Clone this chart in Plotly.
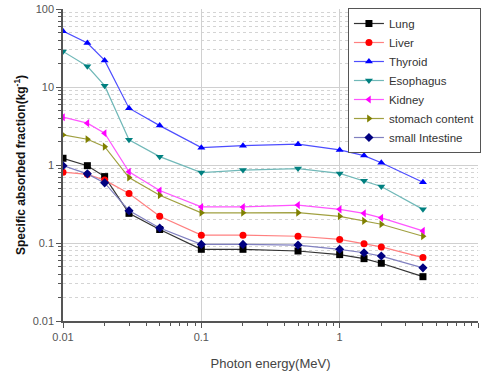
import plotly.graph_objects as go

energy = [0.01, 0.015, 0.02, 0.03, 0.05, 0.1, 0.2, 0.5, 1, 1.5, 2, 4]

lung = [1.22, 0.98, 0.71, 0.24, 0.149, 0.083, 0.083, 0.079, 0.071, 0.063, 0.055, 0.037]
liver = [0.81, 0.76, 0.64, 0.43, 0.22, 0.126, 0.126, 0.122, 0.111, 0.098, 0.089, 0.065]
thyroid = [52, 36.7, 21.9, 5.35, 3.2, 1.67, 1.77, 1.85, 1.56, 1.32, 1.07, 0.6]
esophagus = [28.6, 18.4, 10.4, 2.1, 1.28, 0.80, 0.86, 0.90, 0.78, 0.63, 0.53, 0.27]
kidney = [4.1, 3.44, 2.55, 0.82, 0.47, 0.29, 0.29, 0.306, 0.27, 0.24, 0.21, 0.143]
stomach = [2.43, 2.14, 1.72, 0.69, 0.41, 0.244, 0.244, 0.245, 0.22, 0.192, 0.174, 0.122]
small_int = [0.98, 0.77, 0.59, 0.26, 0.156, 0.096, 0.096, 0.094, 0.083, 0.075, 0.068, 0.048]

x_ticks = [0.01, 0.1, 1, 10]
x_ticklabels = ["0.01", "0.1", "1", "10"]
y_ticks = [0.01, 0.1, 1, 10, 100]
y_ticklabels = ["0.01", "0.1", "1", "10", "100"]
x_minor = [m * d for d in (0.01, 0.1, 1) for m in range(2, 10)]
y_minor = [m * d for d in (0.01, 0.1, 1, 10) for m in range(2, 10)]

series = [
    ("Lung", lung, "#000000", "#333333", "square"),
    ("Liver", liver, "#ff0000", "#ff8080", "circle"),
    ("Thyroid", thyroid, "#0000ff", "#4d4dff", "triangle-up"),
    ("Esophagus", esophagus, "#008080", "#70b8b8", "triangle-down"),
    ("Kidney", kidney, "#ff00ff", "#ff55ff", "triangle-left"),
    ("stomach content", stomach, "#808000", "#a0a040", "triangle-right"),
    ("small Intestine", small_int, "#000080", "#8080c0", "diamond"),
]

fig = go.Figure()
for name, vals, mc, lc, sym in series:
    fig.add_trace(go.Scatter(
        x=energy, y=vals, name=name, mode="lines+markers",
        line=dict(color=lc, width=1.2),
        marker=dict(color=mc, symbol=sym, size=7),
    ))

axis_font = dict(family="Liberation Sans, Arial, sans-serif", size=11, color="#555555")

fig.update_layout(
    width=483, height=371,
    margin=dict(l=63, r=2, t=9, b=50),
    paper_bgcolor="white", plot_bgcolor="white",
    font=dict(family="Liberation Sans, Arial, sans-serif"),
    showlegend=True,
    legend=dict(
        x=(350 - 63) / 418, y=(321 - 8) / 312, xanchor="left", yanchor="top",
        bgcolor="white", bordercolor="#555555", borderwidth=1,
        font=dict(size=11.5, color="#333333"),
        itemwidth=30, tracegroupgap=0,
    ),
    xaxis=dict(
        type="log", range=[-2, 1], automargin=False,
        tickvals=x_ticks, ticktext=x_ticklabels,
        ticks="outside", ticklen=5, tickcolor="#555555",
        showline=True, linecolor="#555555", linewidth=1.5,
        showgrid=True, gridcolor="#d0d0d0", gridwidth=1,
        zeroline=False,
        tickfont=axis_font,
        minor=dict(tickvals=x_minor, ticks="outside", ticklen=3, tickcolor="#555555", showgrid=False),
        title=dict(text="Photon energy(MeV)", font=dict(size=13, color="#444444"), standoff=18),
    ),
    yaxis=dict(
        type="log", range=[-2, 2], automargin=False,
        tickvals=y_ticks, ticktext=y_ticklabels,
        ticks="outside", ticklen=5, tickcolor="#555555",
        showline=True, linecolor="#555555", linewidth=1.5,
        showgrid=True, gridcolor="#d0d0d0", gridwidth=1,
        zeroline=False,
        tickfont=axis_font,
        minor=dict(tickvals=y_minor, ticks="outside", ticklen=3, tickcolor="#555555", showgrid=True,
                   gridcolor="#d4d4d4", griddash="dot", gridwidth=1),
        title=dict(text="<b>Specific absorbed fraction(kg<sup>-1</sup>)</b>",
                   font=dict(size=12, color="#111111"), standoff=4),
    ),
)

fig.add_shape(type="rect", xref="paper", yref="paper",
              x0=(353 - 63) / 418, x1=(387 - 63) / 418,
              y0=(321 - 32) / 312, y1=(321 - 14) / 312,
              line=dict(color="#ff4040", width=1), fillcolor="rgba(0,0,0,0)")

fig.write_html("out.html", config={"displayModeBar": False},
               post_script="document.body.style.margin='0';document.body.style.overflow='hidden';")
